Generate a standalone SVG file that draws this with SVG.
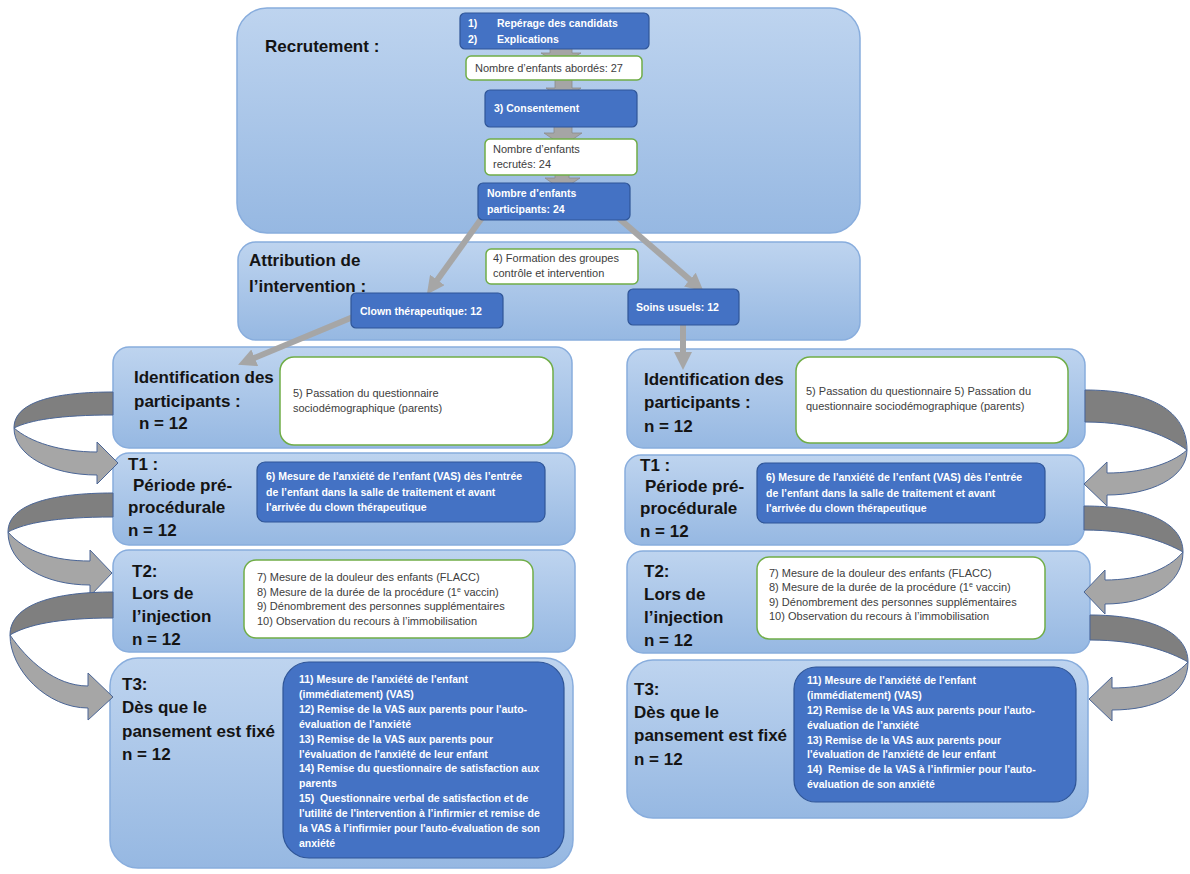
<svg xmlns="http://www.w3.org/2000/svg" width="1190" height="874" viewBox="0 0 1190 874">
<defs>
<linearGradient id="gC" x1="0" y1="0" x2="0" y2="1">
<stop offset="0" stop-color="#bed4ef"/>
<stop offset="1" stop-color="#96b8e2"/>
</linearGradient>
<marker id="ah" markerUnits="userSpaceOnUse" markerWidth="18" markerHeight="18" refX="2" refY="9" orient="auto" viewBox="0 0 18 18">
<path d="M0,0 L18,9 L0,18 z" fill="#a6a6a6"/>
</marker>
<style>
.cont{fill:url(#gC);stroke:#88addd;stroke-width:1.5}
.blue{fill:#4472c4;stroke:#2f5597;stroke-width:1.2}
.white{fill:#ffffff;stroke:#70ad47;stroke-width:1.5}
.lbl{font-family:"Liberation Sans",Arial,sans-serif;font-weight:bold;font-size:17px;fill:#141414}
.tw{font-family:"Liberation Sans",Arial,sans-serif;font-weight:bold;font-size:10.5px;fill:#ffffff}
.td{font-family:"Liberation Sans",Arial,sans-serif;font-size:11px;fill:#3d3d3d}
.blk{fill:#a5a5a5;stroke:#8c8c8c;stroke-width:0.8}
.conn{stroke:#a6a6a6;stroke-width:6;fill:none}
.dark{fill:#7f7f7f;stroke:#4a6596;stroke-width:1}
.light{fill:#a6a6a6;stroke:#4a6596;stroke-width:1}
</style>
</defs>
<rect x="0" y="0" width="1190" height="874" fill="#ffffff"/>

<!-- containers -->
<g id="recrutement">
<rect class="cont" x="237" y="8" width="623" height="225" rx="30"/>
<text class="lbl" x="265" y="52">Recrutement :</text>
</g>
<g id="attribution">
<rect class="cont" x="238" y="242" width="622" height="98" rx="18"/>
<text class="lbl" x="249" y="266">Attribution de</text>
<text class="lbl" x="249" y="292">l’intervention :</text>
</g>
<g id="ident-left">
<rect class="cont" x="113" y="347" width="459" height="101" rx="16"/>
<text class="lbl" x="134" y="383">Identification des</text>
<text class="lbl" x="134" y="407">participants :</text>
<text class="lbl" x="139" y="429">n = 12</text>
</g>
<g id="t1-left">
<rect class="cont" x="113" y="453" width="462" height="92" rx="16"/>
<text class="lbl" x="128" y="470">T1 :</text>
<text class="lbl" x="133" y="491">Période pré-</text>
<text class="lbl" x="128" y="513">procédurale</text>
<text class="lbl" x="128" y="536">n = 12</text>
</g>
<g id="t2-left">
<rect class="cont" x="113" y="550" width="462" height="102" rx="16"/>
<text class="lbl" x="132" y="577">T2:</text>
<text class="lbl" x="132" y="599">Lors de</text>
<text class="lbl" x="132" y="622">l’injection</text>
<text class="lbl" x="132" y="645">n = 12</text>
</g>
<g id="t3-left">
<rect class="cont" x="110" y="658" width="463" height="210" rx="28"/>
<text class="lbl" x="122" y="690">T3:</text>
<text class="lbl" x="122" y="713">Dès que le</text>
<text class="lbl" x="122" y="737">pansement est fixé</text>
<text class="lbl" x="122" y="760">n = 12</text>
</g>
<g id="ident-right">
<rect class="cont" x="627" y="349" width="458" height="99" rx="16"/>
<text class="lbl" x="644" y="385">Identification des</text>
<text class="lbl" x="644" y="408">participants :</text>
<text class="lbl" x="644" y="432">n = 12</text>
</g>
<g id="t1-right">
<rect class="cont" x="625" y="455" width="459" height="90" rx="16"/>
<text class="lbl" x="640" y="471">T1 :</text>
<text class="lbl" x="645" y="492">Période pré-</text>
<text class="lbl" x="640" y="514">procédurale</text>
<text class="lbl" x="640" y="537">n = 12</text>
</g>
<g id="t2-right">
<rect class="cont" x="627" y="551" width="463" height="102" rx="16"/>
<text class="lbl" x="644" y="577">T2:</text>
<text class="lbl" x="644" y="600">Lors de</text>
<text class="lbl" x="644" y="623">l’injection</text>
<text class="lbl" x="644" y="646">n = 12</text>
</g>
<g id="t3-right">
<rect class="cont" x="627" y="660" width="461" height="158" rx="26"/>
<text class="lbl" x="634" y="695">T3:</text>
<text class="lbl" x="634" y="718">Dès que le</text>
<text class="lbl" x="634" y="741">pansement est fixé</text>
<text class="lbl" x="634" y="765">n = 12</text>
</g>

<!-- connectors -->
<g id="connectors">
<polygon class="blk" points="550,46 572,46 572,53 581,53 561,65 541,53 550,53"/>
<polygon class="blk" points="555,79 572,79 572,88 581,88 563.5,101 546,88 555,88"/>
<polygon class="blk" points="554,126 572,126 572,133 582,133 563,146 544,133 554,133"/>
<polygon class="blk" points="555,174 569,174 569,178 580,178 562,190 545,178 555,178"/>
<line class="conn" x1="484" y1="215" x2="436.2" y2="281.6" marker-end="url(#ah)"/>
<line class="conn" x1="615" y1="215" x2="691.4" y2="280.9" marker-end="url(#ah)"/>
<line class="conn" x1="365" y1="312" x2="252.9" y2="358.6" marker-end="url(#ah)"/>
<line class="conn" x1="683" y1="318" x2="683" y2="354" marker-end="url(#ah)"/>
<!-- left curved arrows -->
<path class="dark" d="M113,392 C60,392 14,400 14,428 C30,420 60,415 113,415 Z"/>
<path class="light" d="M14,428 C14,455 50,475 97,475 L97,484 L118,463 L97,442 L97,452 C60,452 30,442 14,428 Z"/>
<path class="dark" d="M113,493 C55,493 8,503 8,532 C25,523 55,517 113,517 Z"/>
<path class="light" d="M8,532 C8,565 45,585 90,585 L90,596 L112,573 L90,550 L90,561 C55,561 25,552 8,532 Z"/>
<path class="dark" d="M113,592 C55,592 10,604 10,635 C27,625 57,618 113,618 Z"/>
<path class="light" d="M10,635 C10,670 47,708 88,708 L88,720 L113,697 L88,673 L88,686 C55,686 27,660 10,635 Z"/>
<!-- right curved arrows -->
<path class="dark" d="M1085,390 C1140,390 1187,405 1187,450 C1170,438 1140,422 1085,422 Z"/>
<path class="light" d="M1187,450 C1187,478 1150,495 1107,495 L1107,506 L1084,484 L1107,462 L1107,473 C1140,473 1170,465 1187,450 Z"/>
<path class="dark" d="M1084,506 C1140,506 1183,520 1183,552 C1165,542 1135,530 1084,530 Z"/>
<path class="light" d="M1183,552 C1183,585 1148,604 1105,604 L1105,614 L1084,592 L1105,570 L1105,580 C1140,580 1168,570 1183,552 Z"/>
<path class="dark" d="M1090,615 C1145,615 1188,630 1188,662 C1170,652 1140,640 1090,640 Z"/>
<path class="light" d="M1188,662 C1188,695 1155,710 1112,710 L1112,721 L1089,699 L1112,677 L1112,688 C1145,688 1172,680 1188,662 Z"/>
</g>

<!-- inner boxes -->
<g id="b-reperage">
<rect class="blue" x="460" y="13" width="189" height="36" rx="5"/>
<text class="tw" y="27"><tspan x="468">1)</tspan><tspan x="497">Repérage des candidats</tspan></text>
<text class="tw" y="43"><tspan x="468">2)</tspan><tspan x="497">Explications</tspan></text>
</g>
<g id="w-abordes">
<rect class="white" x="466" y="56" width="176" height="24" rx="5"/>
<text class="td" x="475" y="72">Nombre d’enfants abordés: 27</text>
</g>
<g id="b-consentement">
<rect class="blue" x="485" y="90" width="152" height="37" rx="5"/>
<text class="tw" x="494" y="112">3) Consentement</text>
</g>
<g id="w-recrutes">
<rect class="white" x="485" y="139" width="152" height="36" rx="5"/>
<text class="td" x="493" y="153">Nombre d’enfants</text>
<text class="td" x="493" y="168">recrutés: 24</text>
</g>
<g id="b-participants">
<rect class="blue" x="478" y="183" width="152" height="37" rx="5"/>
<text class="tw" x="487" y="197">Nombre d’enfants</text>
<text class="tw" x="487" y="213">participants: 24</text>
</g>
<g id="w-formation">
<rect class="white" x="486" y="249" width="152" height="35" rx="5"/>
<text class="td" x="493" y="262">4) Formation des groupes</text>
<text class="td" x="493" y="277">contrôle et intervention</text>
</g>
<g id="b-clown">
<rect class="blue" x="351" y="293" width="152" height="35" rx="5"/>
<text class="tw" x="360" y="315">Clown thérapeutique: 12</text>
</g>
<g id="b-soins">
<rect class="blue" x="628" y="289" width="111" height="36" rx="5"/>
<text class="tw" x="636" y="311">Soins usuels: 12</text>
</g>

<g id="w-ident-left">
<rect class="white" x="280" y="357" width="273" height="88" rx="14"/>
<text class="td" x="293" y="397">5) Passation du questionnaire</text>
<text class="td" x="293" y="412">sociodémographique (parents)</text>
</g>
<g id="b-t1-left">
<rect class="blue" x="257" y="462" width="288" height="60" rx="8"/>
<text class="tw" x="266" y="480">6) Mesure de l'anxiété de l’enfant (VAS) dès l’entrée</text>
<text class="tw" x="266" y="495.5">de l’enfant dans la salle de traitement et avant</text>
<text class="tw" x="266" y="511">l'arrivée du clown thérapeutique</text>
</g>
<g id="w-t2-left">
<rect class="white" x="244" y="560" width="289" height="78" rx="12"/>
<text class="td" x="257" y="581">7) Mesure de la douleur des enfants (FLACC)</text>
<text class="td" x="257" y="596">8) Mesure de la durée de la procédure (1<tspan font-size="7" dy="-4">e</tspan><tspan dy="4"> vaccin)</tspan></text>
<text class="td" x="257" y="610">9) Dénombrement des personnes supplémentaires</text>
<text class="td" x="257" y="625">10) Observation du recours à l’immobilisation</text>
</g>
<g id="b-t3-left">
<rect class="blue" x="283" y="662" width="281" height="196" rx="26"/>
<text class="tw" x="299" y="683">11) Mesure de l'anxiété de l'enfant</text>
<text class="tw" x="299" y="698">(immédiatement) (VAS)</text>
<text class="tw" x="299" y="713">12) Remise de la VAS aux parents pour l'auto-</text>
<text class="tw" x="299" y="728">évaluation de l’anxiété</text>
<text class="tw" x="299" y="743">13) Remise de la VAS aux parents pour</text>
<text class="tw" x="299" y="758">l'évaluation de l'anxiété de leur enfant</text>
<text class="tw" x="299" y="772">14) Remise du questionnaire de satisfaction aux</text>
<text class="tw" x="299" y="787">parents</text>
<text class="tw" x="299" y="802" xml:space="preserve">15)  Questionnaire verbal de satisfaction et de</text>
<text class="tw" x="299" y="817">l'utilité de l'intervention à l’infirmier et remise de</text>
<text class="tw" x="299" y="832">la VAS à l’infirmier pour l'auto-évaluation de son</text>
<text class="tw" x="299" y="847">anxiété</text>
</g>

<g id="w-ident-right">
<rect class="white" x="796" y="357" width="272" height="86" rx="14"/>
<text class="td" x="806" y="395">5) Passation du questionnaire 5) Passation du</text>
<text class="td" x="806" y="410">questionnaire sociodémographique (parents)</text>
</g>
<g id="b-t1-right">
<rect class="blue" x="757" y="463" width="288" height="60" rx="8"/>
<text class="tw" x="766" y="481">6) Mesure de l'anxiété de l’enfant (VAS) dès l’entrée</text>
<text class="tw" x="766" y="496.5">de l’enfant dans la salle de traitement et avant</text>
<text class="tw" x="766" y="512">l'arrivée du clown thérapeutique</text>
</g>
<g id="w-t2-right">
<rect class="white" x="757" y="557" width="288" height="82" rx="12"/>
<text class="td" x="769" y="577">7) Mesure de la douleur des enfants (FLACC)</text>
<text class="td" x="769" y="591">8) Mesure de la durée de la procédure (1<tspan font-size="7" dy="-4">e</tspan><tspan dy="4"> vaccin)</tspan></text>
<text class="td" x="769" y="606">9) Dénombrement des personnes supplémentaires</text>
<text class="td" x="769" y="620">10) Observation du recours à l’immobilisation</text>
</g>
<g id="b-t3-right">
<rect class="blue" x="794" y="667" width="282" height="135" rx="22"/>
<text class="tw" x="807" y="684">11) Mesure de l'anxiété de l'enfant</text>
<text class="tw" x="807" y="699">(immédiatement) (VAS)</text>
<text class="tw" x="807" y="714">12) Remise de la VAS aux parents pour l'auto-</text>
<text class="tw" x="807" y="729">évaluation de l’anxiété</text>
<text class="tw" x="807" y="744">13) Remise de la VAS aux parents pour</text>
<text class="tw" x="807" y="758">l'évaluation de l'anxiété de leur enfant</text>
<text class="tw" x="807" y="773" xml:space="preserve">14)  Remise de la VAS à l’infirmier pour l'auto-</text>
<text class="tw" x="807" y="788">évaluation de son anxiété</text>
</g>
</svg>
